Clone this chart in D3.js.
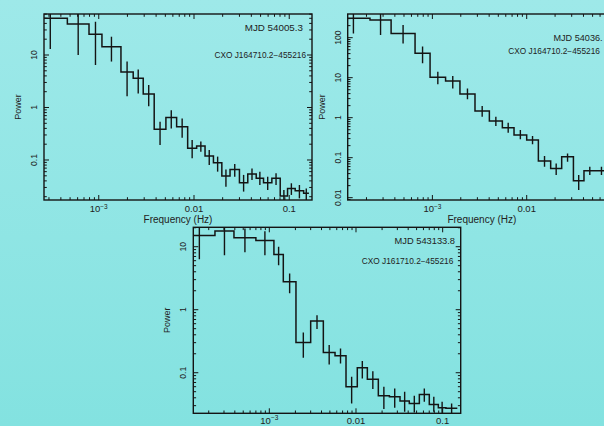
<!DOCTYPE html>
<html>
<head>
<meta charset="utf-8">
<script src="https://cdn.jsdelivr.net/npm/d3@7"></script>
<style>
  html, body { margin: 0; padding: 0; overflow: hidden; }
  svg { display: block; font-family: "Liberation Sans", Arial, Helvetica, sans-serif; }
</style>
</head>
<body>
<svg id="chart" width="604" height="426"></svg>
<script>
// ---- Rebinned power spectra (step histograms with 1-sigma error bars) ----

// MJD 54005.3
const edgesA  = [2.05e-4, 4.68e-4, 7.9e-4, 1.08e-3, 1.71e-3, 2.30e-3, 2.93e-3, 3.82e-3, 5.07e-3, 6.57e-3,
                 8.58e-3, 0.01066, 0.01306, 0.0160, 0.0196, 0.0239, 0.030, 0.0367, 0.045, 0.0537,
                 0.0657, 0.0804, 0.096, 0.1155, 0.1416, 0.161];
const powerA  = [49.9, 38.9, 24.8, 14.4, 4.74, 3.6, 1.81, 0.384, 0.645, 0.43,
                 0.167, 0.185, 0.119, 0.089, 0.0496, 0.066, 0.037, 0.054, 0.0448, 0.037,
                 0.0448, 0.0206, 0.0288, 0.026, 0.0232];
const errHiA  = [80, 75, 43, 22.3, 7.5, 5.3, 2.68, 0.537, 0.89, 0.62,
                 0.24, 0.224, 0.155, 0.116, 0.066, 0.084, 0.052, 0.069, 0.060, 0.048,
                 0.0557, 0.0268, 0.036, 0.0334, 0.0288];
const errLoA  = [13.0, 10, 6.45, 7.5, 1.64, 1.85, 1.06, 0.193, 0.40, 0.266,
                 0.108, 0.144, 0.080, 0.060, 0.031, 0.048, 0.025, 0.0416, 0.0334, 0.0268,
                 0.0334, 0.0165, 0.0216, 0.0186, 0.0165];

// MJD 54036
const edgesB  = [9.7e-5, 2.18e-4, 3.65e-4, 6.55e-4, 9.45e-4, 1.38e-3, 1.96e-3, 2.83e-3, 4.02e-3, 5.52e-3,
                 7.34e-3, 0.0100, 0.0133, 0.01796, 0.0235, 0.0313, 0.0405, 0.0538, 0.0716];
const powerB  = [304, 277, 128, 40.6, 10.2, 8.3, 3.9, 1.47, 0.826, 0.562,
                 0.369, 0.276, 0.0826, 0.054, 0.106, 0.0266, 0.047, 0.047];
const errHiB  = [600, 500, 207, 60, 14.1, 11, 5.4, 1.96, 1.06, 0.75,
                 0.49, 0.348, 0.11, 0.072, 0.128, 0.037, 0.0596, 0.0596];
const errLoB  = [128, 117, 72, 22.8, 6.9, 5.4, 2.87, 1.06, 0.62, 0.42,
                 0.287, 0.216, 0.0596, 0.037, 0.079, 0.0156, 0.037, 0.037];

// MJD 543133.8
const edgesC  = [1.03e-4, 2.36e-4, 3.91e-4, 7.0e-4, 1.13e-3, 1.45e-3, 2.03e-3, 3.0e-3, 4.2e-3, 5.73e-3,
                 7.67e-3, 0.01035, 0.01352, 0.0181, 0.0243, 0.0322, 0.0412, 0.0538, 0.0701, 0.0891,
                 0.109, 0.1476];
const powerC  = [15, 17.7, 13.9, 12.6, 7.55, 2.78, 0.303, 0.66, 0.21, 0.186,
                 0.06, 0.12, 0.079, 0.0432, 0.0416, 0.0355, 0.0326, 0.0453, 0.0314, 0.0278,
                 0.0272];
const errHiC  = [30, 30, 19.5, 17.6, 10, 3.77, 0.436, 0.82, 0.275, 0.243,
                 0.0865, 0.153, 0.106, 0.06, 0.0564, 0.0499, 0.0432, 0.0564, 0.0416, 0.0347,
                 0.0326];
const errLoC  = [6.3, 7.3, 8.2, 7.3, 5.1, 1.82, 0.173, 0.493, 0.135, 0.14,
                 0.0326, 0.0813, 0.055, 0.0265, 0.0278, 0.024, 0.0234, 0.0347, 0.024, 0.022,
                 0.022];

// Axis tick labels
const xTickValues = [1e-3, 0.01, 0.1];
const xTickLabels = ["10^−3", "0.01", "0.1"];
const yTicksA = [0.1, 1, 10];
const yTicksB = [0.01, 0.1, 1, 10, 100];
const yTicksC = [0.1, 1, 10];

const titles  = ["MJD 54005.3", "MJD 54036.", "MJD 543133.8"];
const sources = ["CXO J164710.2−455216", "CXO J164710.2−455216", "CXO J161710.2−455216"];

// ---- Drawing ----
const svg = d3.select("#chart");
const defs = svg.append("defs");
const grad = defs.append("linearGradient").attr("id", "bg")
  .attr("x1", 0).attr("y1", 0).attr("x2", 0).attr("y2", 1);
grad.append("stop").attr("offset", "0%").attr("stop-color", "#9ee9e9");
grad.append("stop").attr("offset", "100%").attr("stop-color", "#83e2e0");
svg.append("rect").attr("width", 604).attr("height", 426).attr("fill", "url(#bg)");

const INK = "#141414";

function logTicks(domain) {
  const out = [];
  const lo = Math.floor(Math.log10(domain[0])), hi = Math.ceil(Math.log10(domain[1]));
  for (let k = lo; k <= hi; k++) {
    for (let m = 1; m <= 9; m++) {
      const v = m * Math.pow(10, k);
      if (v >= domain[0] * 1.0001 && v <= domain[1] / 1.0001) out.push({ v, major: m === 1 });
    }
  }
  return out;
}

function drawPanel(p, idx) {
  const x = d3.scaleLog().domain(p.xDomain).range([p.left, p.right]);
  const y = d3.scaleLog().domain(p.yDomain).range([p.bottom, p.top]);
  const g = svg.append("g");

  defs.append("clipPath").attr("id", "clip" + idx)
    .append("rect").attr("x", p.left).attr("y", p.top)
    .attr("width", p.right - p.left).attr("height", p.bottom - p.top);

  const plot = g.append("g").attr("clip-path", `url(#clip${idx})`);

  // histogram steps
  const pts = [];
  p.power.forEach((v, i) => { pts.push([p.edges[i], v]); pts.push([p.edges[i + 1], v]); });
  const line = d3.line().x(d => x(d[0])).y(d => y(d[1]));
  plot.append("path").attr("d", line(pts))
    .attr("fill", "none").attr("stroke", INK).attr("stroke-width", 1.5)
    .attr("stroke-linejoin", "miter");

  // error bars at bin centres
  plot.selectAll("line.err").data(p.power).join("line")
    .attr("class", "err")
    .attr("x1", (d, i) => x(Math.sqrt(p.edges[i] * p.edges[i + 1])))
    .attr("x2", (d, i) => x(Math.sqrt(p.edges[i] * p.edges[i + 1])))
    .attr("y1", (d, i) => y(p.errHi[i]))
    .attr("y2", (d, i) => y(p.errLo[i]))
    .attr("stroke", INK).attr("stroke-width", 1.4);

  // ticks on all four sides, pointing inwards
  const xt = logTicks(p.xDomain), yt = logTicks(p.yDomain);
  const tg = g.append("g").attr("stroke", INK).attr("stroke-width", 1);
  xt.forEach(t => {
    const L = t.major ? 5 : 2.8, xx = x(t.v);
    tg.append("line").attr("x1", xx).attr("x2", xx).attr("y1", p.bottom).attr("y2", p.bottom - L);
    tg.append("line").attr("x1", xx).attr("x2", xx).attr("y1", p.top).attr("y2", p.top + L);
  });
  yt.forEach(t => {
    const L = t.major ? 5 : 2.8, yy = y(t.v);
    tg.append("line").attr("y1", yy).attr("y2", yy).attr("x1", p.left).attr("x2", p.left + L);
    tg.append("line").attr("y1", yy).attr("y2", yy).attr("x1", p.right).attr("x2", p.right - L);
  });

  // frame
  g.append("rect").attr("x", p.left).attr("y", p.top)
    .attr("width", p.right - p.left).attr("height", p.bottom - p.top)
    .attr("fill", "none").attr("stroke", INK).attr("stroke-width", 1.4);

  // x tick labels
  xTickValues.forEach((v, i) => {
    if (v < p.xDomain[0] || v > p.xDomain[1]) return;
    const t = g.append("text").attr("x", x(v)).attr("y", p.bottom + p.xLabelGap)
      .attr("text-anchor", "middle").attr("font-size", 9.5).attr("fill", "#222");
    const lab = xTickLabels[i];
    if (lab.includes("^")) {
      const [base, ex] = lab.split("^");
      t.append("tspan").text(base);
      t.append("tspan").attr("dy", -3.5).attr("font-size", 6.5).text(ex);
    } else {
      t.text(lab);
    }
  });

  // y tick labels (rotated)
  p.yTicks.forEach(v => {
    g.append("text")
      .attr("transform", `translate(${p.left - 7},${y(v)}) rotate(-90)`)
      .attr("text-anchor", "middle").attr("font-size", 8.5).attr("fill", "#222")
      .text(String(v));
  });

  // axis titles
  g.append("text")
    .attr("transform", `translate(${p.left - 23},${(p.top + p.bottom) / 2}) rotate(-90)`)
    .attr("text-anchor", "middle").attr("font-size", 9).attr("fill", "#222")
    .text("Power");
  if (p.showXTitle) {
    g.append("text").attr("x", (p.left + p.right) / 2).attr("y", p.bottom + 23)
      .attr("text-anchor", "middle").attr("font-size", 10).attr("fill", "#222")
      .text("Frequency (Hz)");
  }

  // annotations
  g.append("text").attr("x", p.titleX).attr("y", p.titleY)
    .attr("text-anchor", p.anchor).attr("font-size", p.titleSize).attr("fill", "#222")
    .text(titles[idx]);
  g.append("text").attr("x", p.srcX).attr("y", p.srcY)
    .attr("text-anchor", p.anchor).attr("font-size", 8.3).attr("fill", "#222")
    .text(sources[idx]);
}

const panels = [
  { left: 44, right: 312, top: 14, bottom: 200,
    xDomain: [Math.pow(10, -3.575), Math.pow(10, -0.761)],
    yDomain: [Math.pow(10, -1.762), Math.pow(10, 1.781)],
    edges: edgesA, power: powerA, errHi: errHiA, errLo: errLoA, yTicks: yTicksA,
    showXTitle: true, xLabelGap: 12,
    anchor: "end", titleX: 303, titleY: 30.5, titleSize: 9.8, srcX: 306, srcY: 58 },
  { left: 347.7, right: 616, top: 14, bottom: 200,
    xDomain: [Math.pow(10, -3.898), Math.pow(10, -1.053)],
    yDomain: [Math.pow(10, -2.058), Math.pow(10, 2.592)],
    edges: edgesB, power: powerB, errHi: errHiB, errLo: errLoB, yTicks: yTicksB,
    showXTitle: true, xLabelGap: 12,
    anchor: "start", titleX: 553.5, titleY: 40.5, titleSize: 9.1, srcX: 508.3, srcY: 53.5 },
  { left: 193.3, right: 460.7, top: 227.3, bottom: 413.3,
    xDomain: [Math.pow(10, -3.877), Math.pow(10, -0.792)],
    yDomain: [Math.pow(10, -1.644), Math.pow(10, 1.308)],
    edges: edgesC, power: powerC, errHi: errHiC, errLo: errLoC, yTicks: yTicksC,
    showXTitle: false, xLabelGap: 10.5,
    anchor: "end", titleX: 455, titleY: 243.5, titleSize: 9.3, srcX: 453.3, srcY: 264 }
];

panels.forEach(drawPanel);
</script>
</body>
</html>
